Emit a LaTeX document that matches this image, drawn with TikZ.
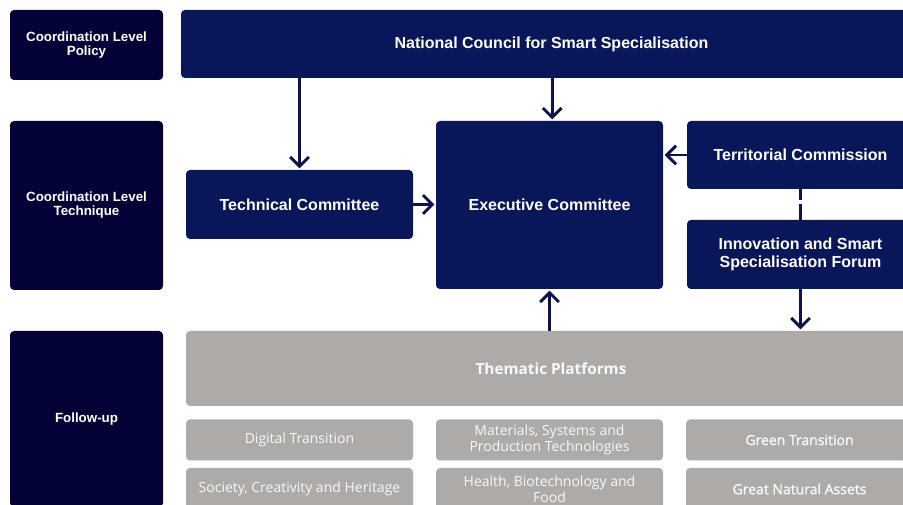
\documentclass[tikz,border=0pt]{standalone}
\usepackage{fontspec}
\setmainfont{Liberation Sans}
\newfontfamily\platfont{Open Sans}
\newfontfamily\platsemi[FakeBold=1.6]{Open Sans}
\usetikzlibrary{arrows.meta}
\definecolor{lvlblue}{RGB}{3,3,56}
\definecolor{boxblue}{RGB}{10,22,90}
\definecolor{platgray}{RGB}{173,170,168}
\definecolor{arrowblue}{RGB}{12,18,82}

\begin{document}
\begin{tikzpicture}[x=0.75pt,y=-0.75pt,
lvl/.style={fill=lvlblue, text=white, rounded corners=3pt, inner sep=0pt, minimum width=114.75pt, align=center, font=\fontsize{10}{10.5}\selectfont\bfseries},
box/.style={fill=boxblue, text=white, rounded corners=3pt, inner sep=0pt, minimum width=170.25pt, align=center, font=\fontsize{12}{13.5}\selectfont\bfseries},
plat/.style={fill=platgray, text=white!94!platgray, rounded corners=3pt, inner sep=0pt, align=center, font=\platfont\fontsize{11.5}{13}\selectfont\bfseries},
sub/.style={fill=platgray, text=white!92!platgray, rounded corners=3pt, inner sep=0pt, minimum width=170.25pt, align=center, font=\platfont\fontsize{10.5}{12}\selectfont},
subbold/.style={sub, font=\platsemi\fontsize{10.5}{12}\selectfont},
>={Straight Barb[length=7pt,width=14pt]},
link/.style={->, draw=arrowblue, line width=2.2pt, shorten >=1pt}]
\useasboundingbox (0,0) rectangle (903,505);
% levels
\node[lvl, minimum height=52.5pt] (pol) at (86.5,45){Coordination Level\\Policy};
\node[lvl, minimum height=126.75pt] (tec) at (86.5,205.5){Coordination Level\\Technique};
\node[lvl, minimum height=132pt] (fol) at (86.5,419){Follow-up};
% bodies
\node[box, minimum width=555.75pt, minimum height=51pt] (ncs) at (551.5,44){National Council for Smart Specialisation};
\node[box, minimum height=51.75pt] (tc) at (299.5,204.5){Technical Committee};
\node[box, minimum height=126pt] (ec) at (549.5,205){Executive Committee};
\node[box, minimum height=51pt] (terr) at (800.5,155){Territorial Commission};
\node[box, minimum height=51.75pt] (isf) at (800.5,254.5){Innovation and Smart\\Specialisation Forum};
% platforms
\node[plat, minimum width=547.5pt, minimum height=56.25pt] (tp) at (551,368.5){Thematic Platforms};
\node[sub, minimum height=30.75pt] (dig) at (299.5,440){Digital Transition};
\node[sub, minimum height=30.75pt] (mat) at (549.5,440){Materials, Systems and\\Production Technologies};
\node[subbold, minimum height=30.75pt] (grn) at (799.5,440){Green Transition};
\node[sub, minimum height=31.5pt] (soc) at (299.5,489){Society, Creativity and Heritage};
\node[sub, minimum height=31.5pt] (hea) at (549.5,489){Health, Biotechnology and\\Food};
\node[subbold, minimum height=31.5pt] (gna) at (799.5,489){Great Natural Assets};
% arrows
\draw[link] (ncs.south -| tc) -- (tc.north);
\draw[link] ([xshift=2pt]ncs.south -| ec) -- ([xshift=2pt]ec.north);
\draw[link] (tc.east) -- (tc.east -| ec.west);
\draw[link] (terr.west) -- (terr.west -| ec.east);
\draw[link] (isf.south) -- (isf.south |- tp.north);
\draw[link] (tp.north -| ec) -- (ec.south);
\draw[draw=arrowblue, line width=2.2pt, dash pattern=on 8pt off 3pt on 20pt] (terr.south) -- (isf.north);
\end{tikzpicture}
\end{document}
